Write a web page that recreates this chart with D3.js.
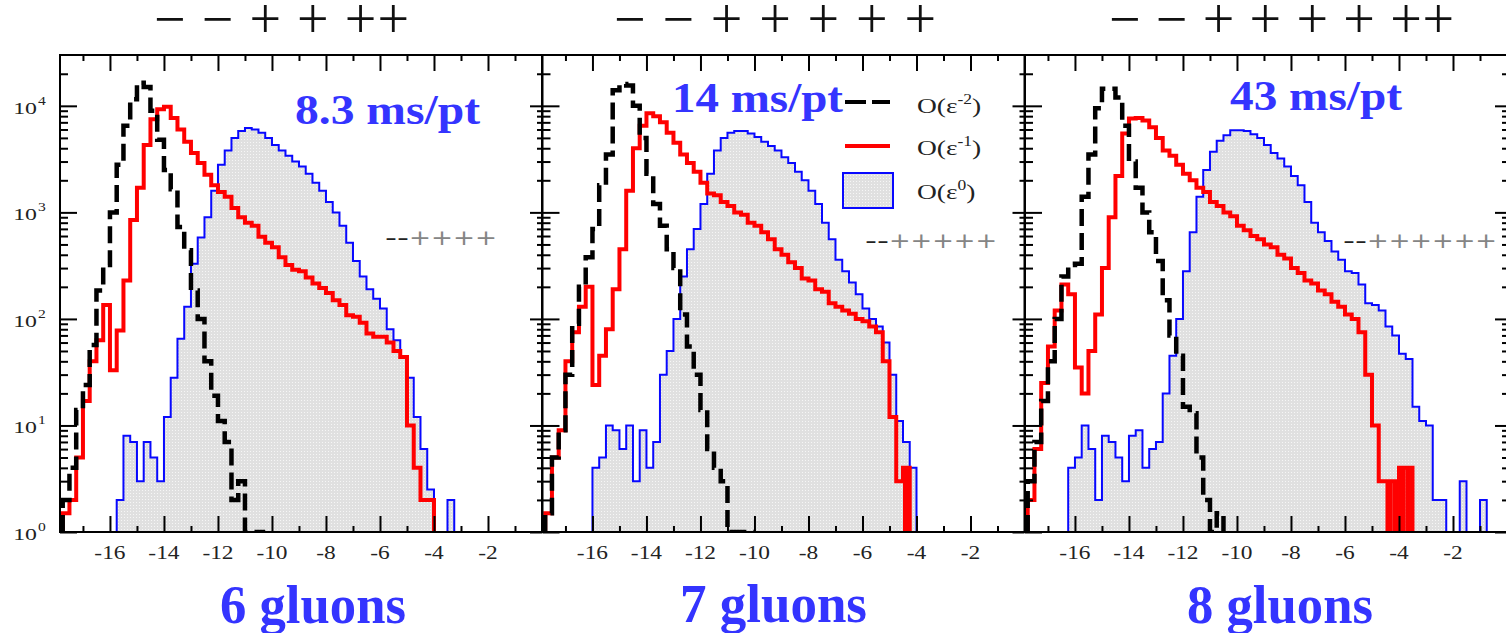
<!DOCTYPE html>
<html lang="en">
<head>
<meta charset="UTF-8">
<title>Gluon amplitudes - precision histograms</title>
<script src="https://d3js.org/d3.v7.min.js"></script>
<style>
  body { margin: 0; background: #fff; }
  svg { display: block; }
  .tickLabel { font-family: "Liberation Serif", serif; font-size: 18px; fill: #222; text-anchor: middle; }
  .ylab { font-family: "Liberation Serif", serif; fill: #222; }
  .blueTitle { font-family: "Liberation Serif", serif; font-weight: bold; fill: #3434ff; }
  .helicity { font-family: "Liberation Serif", serif; font-size: 56px; fill: #111; }
  .config { font-family: "DejaVu Sans", sans-serif; font-size: 22px; }
  .legend { font-family: "Liberation Serif", serif; font-size: 22px; fill: #222; }
</style>
</head>
<body>
<script>
// histogram bins: left edge of bin i = binLo + i * binWidth
const binLo = -17.75;
const binWidth = 0.25;

// 6 gluons
const eps2_6 = [2, 4, 14, 24, 57, 185, 320, 1000, 2800, 6500, 11500, 16500, 15000, 9000, 4800, 2500, 1650, 730, 440, 185, 100, 40, 19, 11, 7, 2, 3, 1, 1, 1];
const eps1_6 = [1.5, 2, 5, 17, 40, 63, 135, 33, 78, 230, 850, 1700, 4300, 7500, 9300, 9800, 7700, 6000, 4600, 3600, 2900, 2250, 1800, 1550, 1400, 1100, 900, 800, 750, 590, 520, 470, 380, 320, 290, 280, 245, 215, 195, 175, 150, 135, 108, 105, 92, 73, 68, 68, 60, 50, 44, 10, 4, 2, 2];
const eps0_6 = [0, 0, 0, 0, 0, 0, 0, 0, 2, 8, 7, 3, 7, 5, 3, 12, 28, 65, 130, 330, 580, 900, 1600, 2800, 3800, 5000, 5800, 6200, 6000, 5600, 5000, 4300, 3800, 3400, 3000, 2700, 2300, 1900, 1600, 1250, 1000, 750, 520, 350, 250, 190, 155, 125, 80, 63, 44, 28, 12, 6, 2.5, 0, 0, 2];
const filled_6 = [];

// 7 gluons
const eps2_7 = [1.5, 5, 9, 30, 90, 200, 380, 700, 1800, 3500, 14000, 16000, 15500, 10000, 5000, 2300, 1200, 750, 450, 300, 110, 55, 30, 14, 6, 4, 3, 1, 1, 1, 1];
const eps1_7 = [1.5, 5, 9, 40, 75, 130, 200, 24, 45, 80, 190, 450, 1600, 4000, 6500, 8500, 8000, 7000, 5600, 4500, 3500, 2900, 2400, 1900, 1500, 1450, 1250, 1150, 1000, 950, 800, 750, 650, 560, 450, 400, 340, 300, 240, 230, 190, 180, 140, 130, 120, 112, 100, 95, 85, 75, 40, 12, 3, 4];
const eps0_7 = [0, 0, 0, 0, 0, 0, 0, 4, 5, 10, 9, 6, 10, 3, 9, 4, 7, 30, 50, 100, 250, 450, 700, 1200, 2300, 3800, 5000, 5600, 5800, 5800, 5500, 5100, 4600, 4200, 3800, 3300, 2900, 2400, 2000, 1600, 1200, 800, 560, 360, 280, 220, 170, 125, 100, 85, 60, 30, 11, 7, 4];
const filled_7 = [-4.5];

// 8 gluons
const eps2_8 = [3, 7, 17, 40, 100, 250, 320, 330, 1400, 3500, 9500, 14500, 14500, 12000, 6500, 3000, 1700, 1000, 650, 350, 150, 70, 45, 15, 13, 5, 2, 1, 1.5, 1];
const eps1_8 = [2, 6, 25, 55, 120, 210, 170, 35, 20, 50, 110, 300, 900, 2200, 5500, 7600, 7700, 7300, 6300, 5000, 3800, 3400, 2800, 2300, 2000, 1700, 1550, 1250, 1150, 1000, 920, 750, 680, 600, 560, 500, 470, 400, 370, 300, 270, 230, 215, 185, 170, 145, 130, 110, 100, 75, 30, 10, 3, 3, 3, 4, 4];
const eps0_8 = [0, 0, 0, 0, 0, 0, 4, 5, 10, 6, 2, 8, 7, 5, 3, 8, 9, 4, 6, 7, 20, 45, 100, 280, 650, 1400, 2500, 3700, 4700, 5300, 5900, 5900, 5800, 5400, 5000, 4300, 3600, 3200, 2700, 2200, 1800, 1250, 800, 650, 540, 430, 360, 280, 270, 210, 140, 135, 120, 85, 70, 47, 42, 15, 11, 10, 2, 2, 0, 0, 3, 0, 0, 2];
const filled_8 = [-4.5, -4.25, -4, -3.75];

const xMajor = [-16, -14, -12, -10, -8, -6, -4, -2];
const xMinor = [-17, -15, -13, -11, -9, -7, -5, -3, -1];
const yMajor = [1, 10, 100, 1000, 10000];
const yExp = ["0", "1", "2", "3", "4"];
const legendExp = ["-2", "-1", "0"];
const timeLabels = ["8.3 ms/pt", "14 ms/pt", "43 ms/pt"];
const gluonLabels = ["6 gluons", "7 gluons", "8 gluons"];
const helicities = ["\u2212 \u2212 + + ++", "\u2212 \u2212 + + + + +", "\u2212 \u2212 + + + + ++"];
const configs = ["++++", "+++++", "++++++"];

const panels = [
  { eps2: eps2_6, eps1: eps1_6, eps0: eps0_6, filled: filled_6 },
  { eps2: eps2_7, eps1: eps1_7, eps0: eps0_7, filled: filled_7 },
  { eps2: eps2_8, eps1: eps1_8, eps0: eps0_8, filled: filled_8 }
];

// layout
const width = 1506, height = 633;
const panelLeft = [60, 542.5, 1025];
const panelW = 482, plotTop = 55, plotBottom = 532;
const titlePos = [{ x: 295, y: 124, w: 185 }, { x: 672, y: 112, w: 171 }, { x: 1230, y: 110, w: 172 }];
const gluonPos = [{ x: 220, y: 623, w: 186 }, { x: 680, y: 622, w: 187 }, { x: 1187, y: 623, w: 186 }];
const helPos = [{ x: 154, w: 255 }, { x: 614, w: 322 }, { x: 1109, w: 345 }];
const cfgPos = [{ x: 385, y: 245, w: 112 }, { x: 865, y: 248, w: 132 }, { x: 1343, y: 248, w: 154 }];

const svg = d3.select("body").append("svg")
  .attr("width", width)
  .attr("height", height)
  .style("background", "#fff");

const defs = svg.append("defs");
const pat = defs.append("pattern")
  .attr("id", "dots")
  .attr("width", 3).attr("height", 3)
  .attr("patternUnits", "userSpaceOnUse");
pat.append("rect").attr("width", 3).attr("height", 3).attr("fill", "#e0e0e0");
pat.append("rect").attr("x", 1).attr("y", 1).attr("width", 1).attr("height", 1).attr("fill", "#f6f6f6");

const y = d3.scaleLog().domain([1, 30000]).range([plotBottom, plotTop]).clamp(true);

const yMinor = [];
for (let d = 1; d <= 10000; d *= 10) {
  for (let m = 2; m <= 9; m++) if (m * d < 30000) yMinor.push(m * d);
}

// step points for a histogram, trimmed to its non-empty range
function histPoints(counts) {
  const first = counts.findIndex(c => c > 0);
  let last = counts.length - 1;
  while (last > first && !(counts[last] > 0)) last--;
  const pts = [[binLo + first * binWidth, 1]];
  for (let i = first; i <= last; i++) pts.push([binLo + i * binWidth, Math.max(1, counts[i])]);
  const end = binLo + (last + 1) * binWidth;
  pts.push([end, Math.max(1, counts[last])]);
  pts.push([end, 1]);
  return pts;
}

function tickStyle(g) {
  g.select(".domain").remove();
  g.selectAll(".tick line").attr("stroke", "#000").attr("stroke-width", 2);
}

panels.forEach((p, k) => {
  const left = panelLeft[k];
  const x = d3.scaleLinear().domain([-17.85, 0]).range([left, left + panelW]);

  defs.append("clipPath").attr("id", "clip" + k)
    .append("rect")
    .attr("x", left).attr("y", plotTop)
    .attr("width", panelW).attr("height", plotBottom - plotTop);

  const plot = svg.append("g").attr("clip-path", `url(#clip${k})`);

  const line = d3.line().x(d => x(d[0])).y(d => y(d[1])).curve(d3.curveStepAfter);
  const area = d3.area().x(d => x(d[0])).y0(y(1)).y1(d => y(d[1])).curve(d3.curveStepAfter);

  // O(eps^0): filled histogram
  const p0 = histPoints(p.eps0);
  plot.append("path").attr("d", area(p0)).attr("fill", "url(#dots)");
  plot.append("path").attr("d", line(p0))
    .attr("fill", "none").attr("stroke", "#0808ff").attr("stroke-width", 2);

  // O(eps^-1): red
  p.filled.forEach(e => {
    const i = Math.round((e - binLo) / binWidth);
    plot.append("rect")
      .attr("x", x(e)).attr("y", y(p.eps1[i]))
      .attr("width", x(e + binWidth) - x(e))
      .attr("height", y(1) - y(p.eps1[i]))
      .attr("fill", "#ff0000");
  });
  plot.append("path").attr("d", line(histPoints(p.eps1)))
    .attr("fill", "none").attr("stroke", "#ff0000").attr("stroke-width", 4);

  // O(eps^-2): black dashed
  plot.append("path").attr("d", line(histPoints(p.eps2)))
    .attr("fill", "none").attr("stroke", "#000").attr("stroke-width", 4.5)
    .attr("stroke-dasharray", "17,7");

  // axes
  const g = svg.append("g");
  g.append("g").attr("transform", `translate(0,${plotBottom})`)
    .call(d3.axisTop(x).tickValues(xMajor).tickSize(16).tickFormat("")).call(tickStyle);
  g.append("g").attr("transform", `translate(0,${plotBottom})`)
    .call(d3.axisTop(x).tickValues(xMinor).tickSize(6).tickFormat("")).call(tickStyle);
  g.append("g").attr("transform", `translate(0,${plotTop})`)
    .call(d3.axisBottom(x).tickValues(xMajor).tickSize(16).tickFormat("")).call(tickStyle);
  g.append("g").attr("transform", `translate(0,${plotTop})`)
    .call(d3.axisBottom(x).tickValues(xMinor).tickSize(6).tickFormat("")).call(tickStyle);
  g.append("g").attr("transform", `translate(${left},0)`)
    .call(d3.axisRight(y).tickValues(yMajor).tickSize(17).tickFormat("")).call(tickStyle);
  g.append("g").attr("transform", `translate(${left},0)`)
    .call(d3.axisRight(y).tickValues(yMinor).tickSize(8).tickFormat("")).call(tickStyle);
  g.append("g").attr("transform", `translate(${left + panelW},0)`)
    .call(d3.axisLeft(y).tickValues(yMajor).tickSize(12).tickFormat("")).call(tickStyle);
  g.append("g").attr("transform", `translate(${left + panelW},0)`)
    .call(d3.axisLeft(y).tickValues(yMinor).tickSize(5).tickFormat("")).call(tickStyle);

  g.append("rect")
    .attr("x", left).attr("y", plotTop)
    .attr("width", panelW).attr("height", plotBottom - plotTop)
    .attr("fill", "none").attr("stroke", "#000").attr("stroke-width", 2);

  // x tick labels
  g.selectAll(".xl").data(xMajor).join("text")
    .attr("class", "tickLabel")
    .attr("transform", d => `translate(${x(d)},${plotBottom + 27}) scale(1.3,1)`)
    .text(d => String(d));

  // y labels only on the first panel
  if (k === 0) {
    yMajor.forEach((v, i) => {
      g.append("text").attr("class", "ylab")
        .attr("font-size", 17).attr("text-anchor", "end")
        .attr("transform", `translate(37,${y(v) + 8}) scale(1.4,1)`)
        .text("10");
      g.append("text").attr("class", "ylab")
        .attr("font-size", 12).attr("text-anchor", "start")
        .attr("transform", `translate(38,${y(v) - 1}) scale(1.3,1)`)
        .text(yExp[i]);
    });
  }

  // helicity label above panel
  svg.append("text").attr("class", "helicity")
    .attr("x", helPos[k].x).attr("y", 38)
    .attr("textLength", helPos[k].w).attr("lengthAdjust", "spacing")
    .text(helicities[k]);

  // small configuration label
  svg.append("text").attr("class", "config").attr("fill", "#222")
    .attr("x", cfgPos[k].x).attr("y", cfgPos[k].y)
    .attr("textLength", 24).attr("lengthAdjust", "spacingAndGlyphs")
    .text("--");
  svg.append("text").attr("class", "config").attr("fill", "#858585")
    .attr("x", cfgPos[k].x + 24).attr("y", cfgPos[k].y)
    .attr("textLength", cfgPos[k].w - 24).attr("lengthAdjust", "spacingAndGlyphs")
    .text(configs[k]);

  // timing label
  svg.append("text").attr("class", "blueTitle")
    .attr("font-size", 42)
    .attr("x", titlePos[k].x).attr("y", titlePos[k].y)
    .attr("textLength", titlePos[k].w).attr("lengthAdjust", "spacingAndGlyphs")
    .text(timeLabels[k]);

  // gluon count
  svg.append("text").attr("class", "blueTitle")
    .attr("font-size", 54)
    .attr("x", gluonPos[k].x).attr("y", gluonPos[k].y)
    .attr("textLength", gluonPos[k].w).attr("lengthAdjust", "spacingAndGlyphs")
    .text(gluonLabels[k]);
});

// legend (in the middle panel)
const leg = svg.append("g");
const legRows = [104, 146, 190];
leg.append("line")
  .attr("x1", 845).attr("x2", 890).attr("y1", legRows[0] - 2).attr("y2", legRows[0] - 2)
  .attr("stroke", "#000").attr("stroke-width", 4).attr("stroke-dasharray", "21,6");
leg.append("line")
  .attr("x1", 845).attr("x2", 890).attr("y1", legRows[1]).attr("y2", legRows[1])
  .attr("stroke", "#ff0000").attr("stroke-width", 4);
leg.append("rect")
  .attr("x", 843).attr("y", 173).attr("width", 50).attr("height", 35)
  .attr("fill", "url(#dots)").attr("stroke", "#0808ff").attr("stroke-width", 2);

legendExp.forEach((e, i) => {
  const t = leg.append("text").attr("class", "legend")
    .attr("transform", `translate(917,${legRows[i] + 9}) scale(1.25,1)`);
  t.append("tspan").text("O(\u03b5");
  t.append("tspan").attr("font-size", 14).attr("dy", -9).text(e);
  t.append("tspan").attr("dy", 9).text(")");
});
</script>
</body>
</html>
